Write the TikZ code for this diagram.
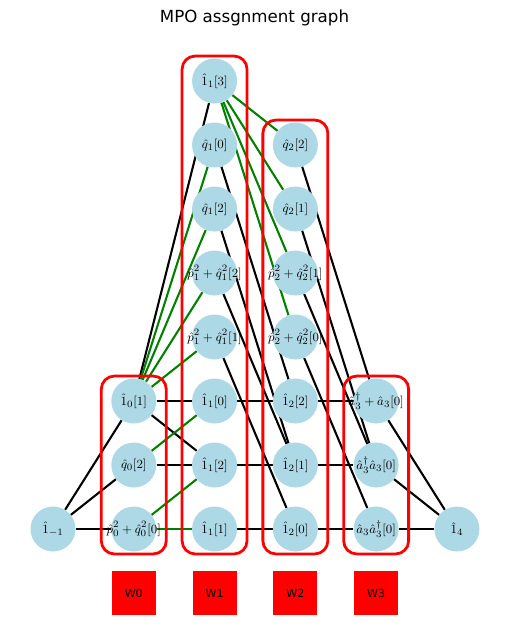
\documentclass[tikz,border=0pt]{standalone}
\usepackage{fontspec}
\setmainfont{DejaVu Sans}
\usepackage{tikz}
\usetikzlibrary{backgrounds}
\RequirePackage{amsmath}
\usepackage{xcolor}
\definecolor{lightblue}{HTML}{ADD8E6}
\definecolor{mplgreen}{HTML}{008000}
\newcommand{\oplab}[1]{\makebox[0pt]{$#1$}}

\begin{document}
\begin{tikzpicture}[x=2.045cm, y=1.62cm]
	\useasboundingbox (-0.656,-1.578) rectangle (5.644,8.266);
	\tikzstyle{link}=[black, line width=1.5pt]
	\tikzstyle{glink}=[mplgreen, line width=1.5pt]
	\tikzstyle{wbox}=[draw=red, line width=2pt, rounded corners=9.4pt]
	\tikzstyle{every node}=[font=\fontsize{9.5}{11}\selectfont, circle, fill=lightblue, minimum size=32.4pt, inner sep=0pt]
	% end points
	\draw (0,0) node (lm1) {\oplab{\hat{1}_{-1}}};
	\draw (5,0) node (i4) {\oplab{\hat{1}_{4}}};
	% W0
	\draw (1,2) node (i01) {\oplab{\hat{1}_0[1]}};
	\draw (1,1) node (q02) {\oplab{\hat{q}_0[2]}};
	\draw (1,0) node (pq00) {\oplab{\hat{p}_0^2+\hat{q}_0^2[0]}};
	% W1
	\draw (2,7) node (i13) {\oplab{\hat{1}_1[3]}};
	\draw (2,6) node (q10) {\oplab{\hat{q}_1[0]}};
	\draw (2,5) node (q12) {\oplab{\hat{q}_1[2]}};
	\draw (2,4) node (pq12) {\oplab{\hat{p}_1^2+\hat{q}_1^2[2]}};
	\draw (2,3) node (pq11) {\oplab{\hat{p}_1^2+\hat{q}_1^2[1]}};
	\draw (2,2) node (i10) {\oplab{\hat{1}_1[0]}};
	\draw (2,1) node (i12) {\oplab{\hat{1}_1[2]}};
	\draw (2,0) node (i11) {\oplab{\hat{1}_1[1]}};
	% W2
	\draw (3,6) node (q22) {\oplab{\hat{q}_2[2]}};
	\draw (3,5) node (q21) {\oplab{\hat{q}_2[1]}};
	\draw (3,4) node (pq21) {\oplab{\hat{p}_2^2+\hat{q}_2^2[1]}};
	\draw (3,3) node (pq20) {\oplab{\hat{p}_2^2+\hat{q}_2^2[0]}};
	\draw (3,2) node (i22) {\oplab{\hat{1}_2[2]}};
	\draw (3,1) node (i21) {\oplab{\hat{1}_2[1]}};
	\draw (3,0) node (i20) {\oplab{\hat{1}_2[0]}};
	% W3
	\draw (4,2) node (apa) {\oplab{\hat{a}_3^\dagger+\hat{a}_3[0]}};
	\draw (4,1) node (ada) {\oplab{\hat{a}_3^\dagger\hat{a}_3[0]}};
	\draw (4,0) node (aad) {\oplab{\hat{a}_3\hat{a}_3^\dagger[0]}};
	\begin{scope}[on background layer]
		\draw [link] (lm1) to (i01);
		\draw [link] (lm1) to (q02);
		\draw [link] (lm1) to (pq00);
		\draw [link] (i01) to (i13);
		\draw [link] (i01) to (i10);
		\draw [link] (i01) to (i12);
		\draw [link] (q02) to (i12);
		\draw [glink] (i01) to (q10);
		\draw [glink] (i01) to (q12);
		\draw [glink] (i01) to (pq12);
		\draw [glink] (i01) to (pq11);
		\draw [glink] (q02) to (i10);
		\draw [glink] (pq00) to (i12);
		\draw [glink] (pq00) to (i11);
		\draw [link] (q10) to (i22);
		\draw [link] (q12) to (i21);
		\draw [link] (pq12) to (i21);
		\draw [link] (pq11) to (i20);
		\draw [link] (i10) to (i22);
		\draw [link] (i12) to (i21);
		\draw [link] (i11) to (i20);
		\draw [glink] (i13) to (q22);
		\draw [glink] (i13) to (q21);
		\draw [glink] (i13) to (pq21);
		\draw [glink] (i13) to (pq20);
		\draw [link] (q22) to (apa);
		\draw [link] (q21) to (ada);
		\draw [link] (pq21) to (ada);
		\draw [link] (pq20) to (aad);
		\draw [link] (i22) to (apa);
		\draw [link] (i21) to (ada);
		\draw [link] (i20) to (aad);
		\draw [link] (apa) to (i4);
		\draw [link] (ada) to (i4);
		\draw [link] (aad) to (i4);
		% site boxes
		\draw [wbox] (0.598,-0.39) rectangle (1.402,2.39);
		\draw [wbox] (1.598,-0.39) rectangle (2.402,7.39);
		\draw [wbox] (2.598,-0.39) rectangle (3.402,6.39);
		\draw [wbox] (3.598,-0.39) rectangle (4.402,2.39);
	\end{scope}
	\tikzstyle{every node}=[font=\fontsize{8}{9}\selectfont, rectangle, fill=red, minimum size=31.7pt, inner sep=0pt]
	\draw (1,-1) node (w0) {W0};
	\draw (2,-1) node (w1) {W1};
	\draw (3,-1) node (w2) {W2};
	\draw (4,-1) node (w3) {W3};
	\draw (2.494,7.98) node (title) [fill=none, font=\fontsize{12}{14}\selectfont] {MPO assgnment graph};
\end{tikzpicture}
\end{document}
